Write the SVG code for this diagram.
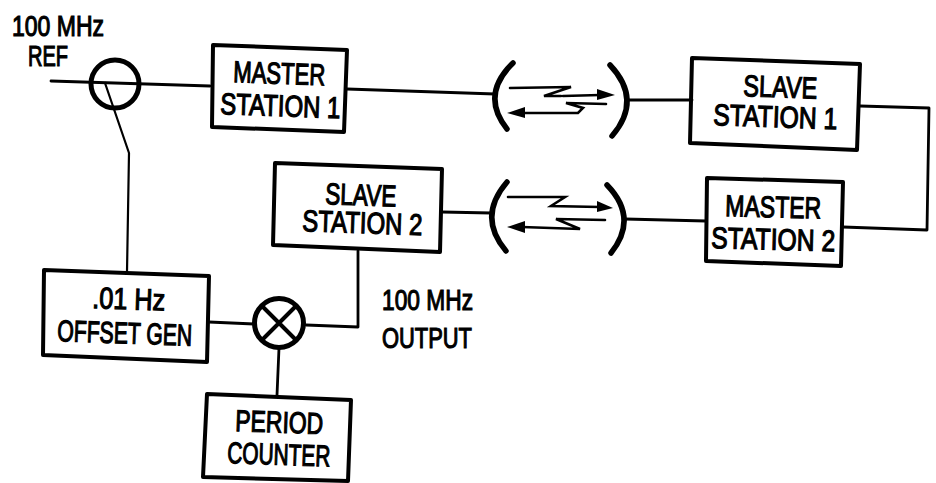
<svg xmlns="http://www.w3.org/2000/svg" width="936" height="483" viewBox="0 0 936 483">
<style>
.l{fill:none;stroke:#000;stroke-width:2.8;stroke-linejoin:round;stroke-linecap:round}
.thin{fill:none;stroke:#000;stroke-width:2.2;stroke-linejoin:round;stroke-linecap:round}
.a{fill:none;stroke:#000;stroke-width:2.6;stroke-linejoin:miter;stroke-linecap:round}
.b{fill:none;stroke:#000;stroke-width:4;stroke-linejoin:round}
.c{fill:none;stroke:#000;stroke-width:5.500;stroke-linecap:round}
.h{fill:#000;stroke:none}
text{font-family:"Liberation Sans",Arial,sans-serif;font-size:30px;fill:#000;stroke:#000;stroke-width:1.2;text-anchor:start}
</style>
<rect width="936" height="483" fill="#fff"/>
<g id="connectors">
<path class="l" d="M51 81L210 86"/>
<path class="thin" d="M105 83L129 153L127 272"/>
<path class="l" d="M347 89L495 94"/>
<path class="l" d="M627 100L692 100"/>
<path class="l" d="M860 106L929 108L927 230L843 227"/>
<path class="l" d="M442 212L491 213"/>
<path class="l" d="M625 219L706 221"/>
<path class="l" d="M358 251L358 327L306 325"/>
<path class="l" d="M209 322L254 324"/>
<path class="l" d="M279 348L277 395"/>
</g>
<g id="ref-mixer"><circle cx="115" cy="84" r="24" fill="none" stroke="#000" stroke-width="5"/></g>
<g id="mixer"><circle cx="279" cy="323" r="24.500" fill="none" stroke="#000" stroke-width="5"/><path class="b" d="M262 306L296 340M296 306L262 340"/></g>
<g id="master1"><path class="b" d="M213 45L347 50L344 132L212 127Z"/>
<text x="233" y="82" transform="rotate(2 233 82)" textLength="92" lengthAdjust="spacingAndGlyphs">MASTER</text>
<text x="220" y="114" transform="rotate(2 220 114)" textLength="120" lengthAdjust="spacingAndGlyphs">STATION 1</text></g>
<g id="slave1"><path class="b" d="M692 58L860 64L857 150L690 143Z"/>
<text x="743" y="96" transform="rotate(2 743 96)" textLength="74" lengthAdjust="spacingAndGlyphs">SLAVE</text>
<text x="713" y="125" transform="rotate(2 713 125)" textLength="124" lengthAdjust="spacingAndGlyphs">STATION 1</text></g>
<g id="slave2"><path class="b" d="M275 163L442 169L440 252L273 245Z"/>
<text x="325" y="204" transform="rotate(2 325 204)" textLength="71" lengthAdjust="spacingAndGlyphs">SLAVE</text>
<text x="302" y="231" transform="rotate(2 302 231)" textLength="120" lengthAdjust="spacingAndGlyphs">STATION 2</text></g>
<g id="master2"><path class="b" d="M707 178L843 182L841 266L706 261Z"/>
<text x="725" y="216" transform="rotate(1.500 725 216)" textLength="96" lengthAdjust="spacingAndGlyphs">MASTER</text>
<text x="711" y="248" transform="rotate(1.500 711 248)" textLength="124" lengthAdjust="spacingAndGlyphs">STATION 2</text></g>
<g id="offset"><path class="b" d="M44 270L209 276L207 362L43 355Z"/>
<text x="92" y="308" transform="rotate(2 92 308)" textLength="73" lengthAdjust="spacingAndGlyphs">.01 Hz</text>
<text x="57" y="341" transform="rotate(2 57 341)" textLength="135" lengthAdjust="spacingAndGlyphs">OFFSET GEN</text></g>
<g id="period"><path class="b" d="M207 394L351 400L348 481L203 477Z"/>
<text x="235" y="431" transform="rotate(2 235 431)" textLength="88" lengthAdjust="spacingAndGlyphs">PERIOD</text>
<text x="227" y="463" transform="rotate(2 227 463)" textLength="103" lengthAdjust="spacingAndGlyphs">COUNTER</text></g>
<g id="link1">
<path class="c" d="M513 63Q480 95 507 129"/>
<path class="c" d="M610 65Q643 100 612 136"/>
<path class="a" d="M510 88L571 87L544 96L561 96"/>
<path class="a" d="M563 96L600 95"/>
<path class="h" d="M597 89L615 95L597 100Z"/>
<path class="a" d="M606 104L566 103L583 108L578 113L522 113"/>
<path class="h" d="M507 113L525 107V118Z"/>
</g>
<g id="link2">
<path class="c" d="M507 182Q477 217 506 251"/>
<path class="c" d="M607 185Q639 218 611 253"/>
<path class="a" d="M508 197L565 197L551 206L600 207"/>
<path class="h" d="M597 201L613 208L597 212Z"/>
<path class="a" d="M605 220L556 219L580 229L522 227"/>
<path class="h" d="M507 227L525 221V233Z"/>
</g>
<g id="labels">
<text x="12" y="36" textLength="92" lengthAdjust="spacingAndGlyphs">100 MHz</text>
<text x="28" y="66" textLength="40" lengthAdjust="spacingAndGlyphs">REF</text>
<text x="382" y="310" textLength="91" lengthAdjust="spacingAndGlyphs">100 MHz</text>
<text x="382" y="348" textLength="90" lengthAdjust="spacingAndGlyphs">OUTPUT</text>
</g>
</svg>
